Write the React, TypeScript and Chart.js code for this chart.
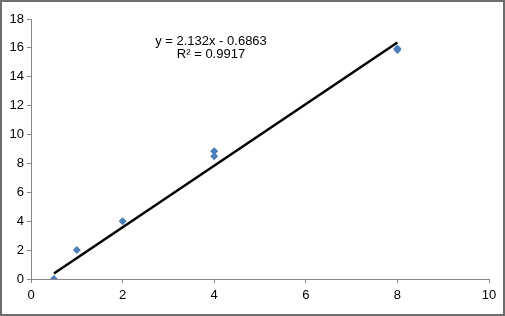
import React, { useEffect, useRef } from "react";
import { Chart, registerables } from "chart.js";

Chart.register(...registerables);

const xValues = [0.5, 1, 2, 4, 4, 8, 8];
const yValues = [0, 2, 4, 8.5, 8.85, 15.85, 15.95];
const slope = 2.132;
const intercept = -0.6863;
const trendX = [0.5, 8];
const equationText = "y = 2.132x - 0.6863";
const r2Text = "R² = 0.9917";

const AXIS = "#868686";
const FONT = "Liberation Sans, Arial, sans-serif";

const textPlugin = {
  id: "trendText",
  afterDatasetsDraw(chart: any) {
    const { ctx, scales } = chart;
    const x = scales.x.getPixelForValue(3.93);
    ctx.save();
    ctx.fillStyle = "#000";
    ctx.font = `13px ${FONT}`;
    ctx.textAlign = "center";
    ctx.textBaseline = "middle";
    ctx.fillText(equationText, x, scales.y.getPixelForValue(16.45));
    ctx.fillText(r2Text, x, scales.y.getPixelForValue(15.55));
    ctx.restore();
  },
};

export default function App() {
  const ref = useRef<HTMLCanvasElement | null>(null);
  useEffect(() => {
    document.body.style.margin = "0";
    const pts = xValues.map((x, i) => ({ x, y: yValues[i] }));
    const trend = trendX.map((x) => ({ x, y: slope * x + intercept }));
    const chart = new Chart(ref.current!, {
      type: "scatter",
      data: {
        datasets: [
          {
            data: pts,
            pointStyle: "rectRot",
            pointRadius: 4,
            backgroundColor: "#4A7EBB",
            borderColor: "#4A7EBB",
            borderWidth: 0,
            showLine: false,
          },
          {
            data: trend,
            showLine: true,
            borderColor: "#000",
            borderWidth: 2.5,
            pointRadius: 0,
          },
        ],
      },
      options: {
        animation: false,
        responsive: false,
        maintainAspectRatio: false,
        layout: { padding: { top: 17, right: 14, left: 0, bottom: 0 } },
        plugins: { legend: { display: false }, tooltip: { enabled: false } },
        scales: {
          x: {
            type: "linear",
            min: 0,
            max: 10,
            afterFit: (s: any) => {
              s.height = 35;
            },
            ticks: { stepSize: 2, color: "#000", font: { family: FONT, size: 13 }, padding: 5 },
            grid: { display: true, drawOnChartArea: false, drawTicks: true, tickLength: 4, color: AXIS },
            border: { display: true, color: AXIS, width: 1 },
          },
          y: {
            type: "linear",
            min: 0,
            max: 18,
            afterFit: (s: any) => {
              s.width = 29;
            },
            ticks: { stepSize: 2, color: "#000", font: { family: FONT, size: 13 }, padding: 3 },
            grid: { display: true, drawOnChartArea: false, drawTicks: true, tickLength: 4, color: AXIS },
            border: { display: true, color: AXIS, width: 1 },
          },
        },
      },
      plugins: [textPlugin],
    });
    return () => chart.destroy();
  }, []);
  return (
    <div
      style={{
        width: 505,
        height: 316,
        border: "2px solid #6d6d6d",
        boxSizing: "border-box",
        background: "#fff",
      }}
    >
      <canvas ref={ref} width={501} height={312} style={{ display: "block" }} />
    </div>
  );
}
